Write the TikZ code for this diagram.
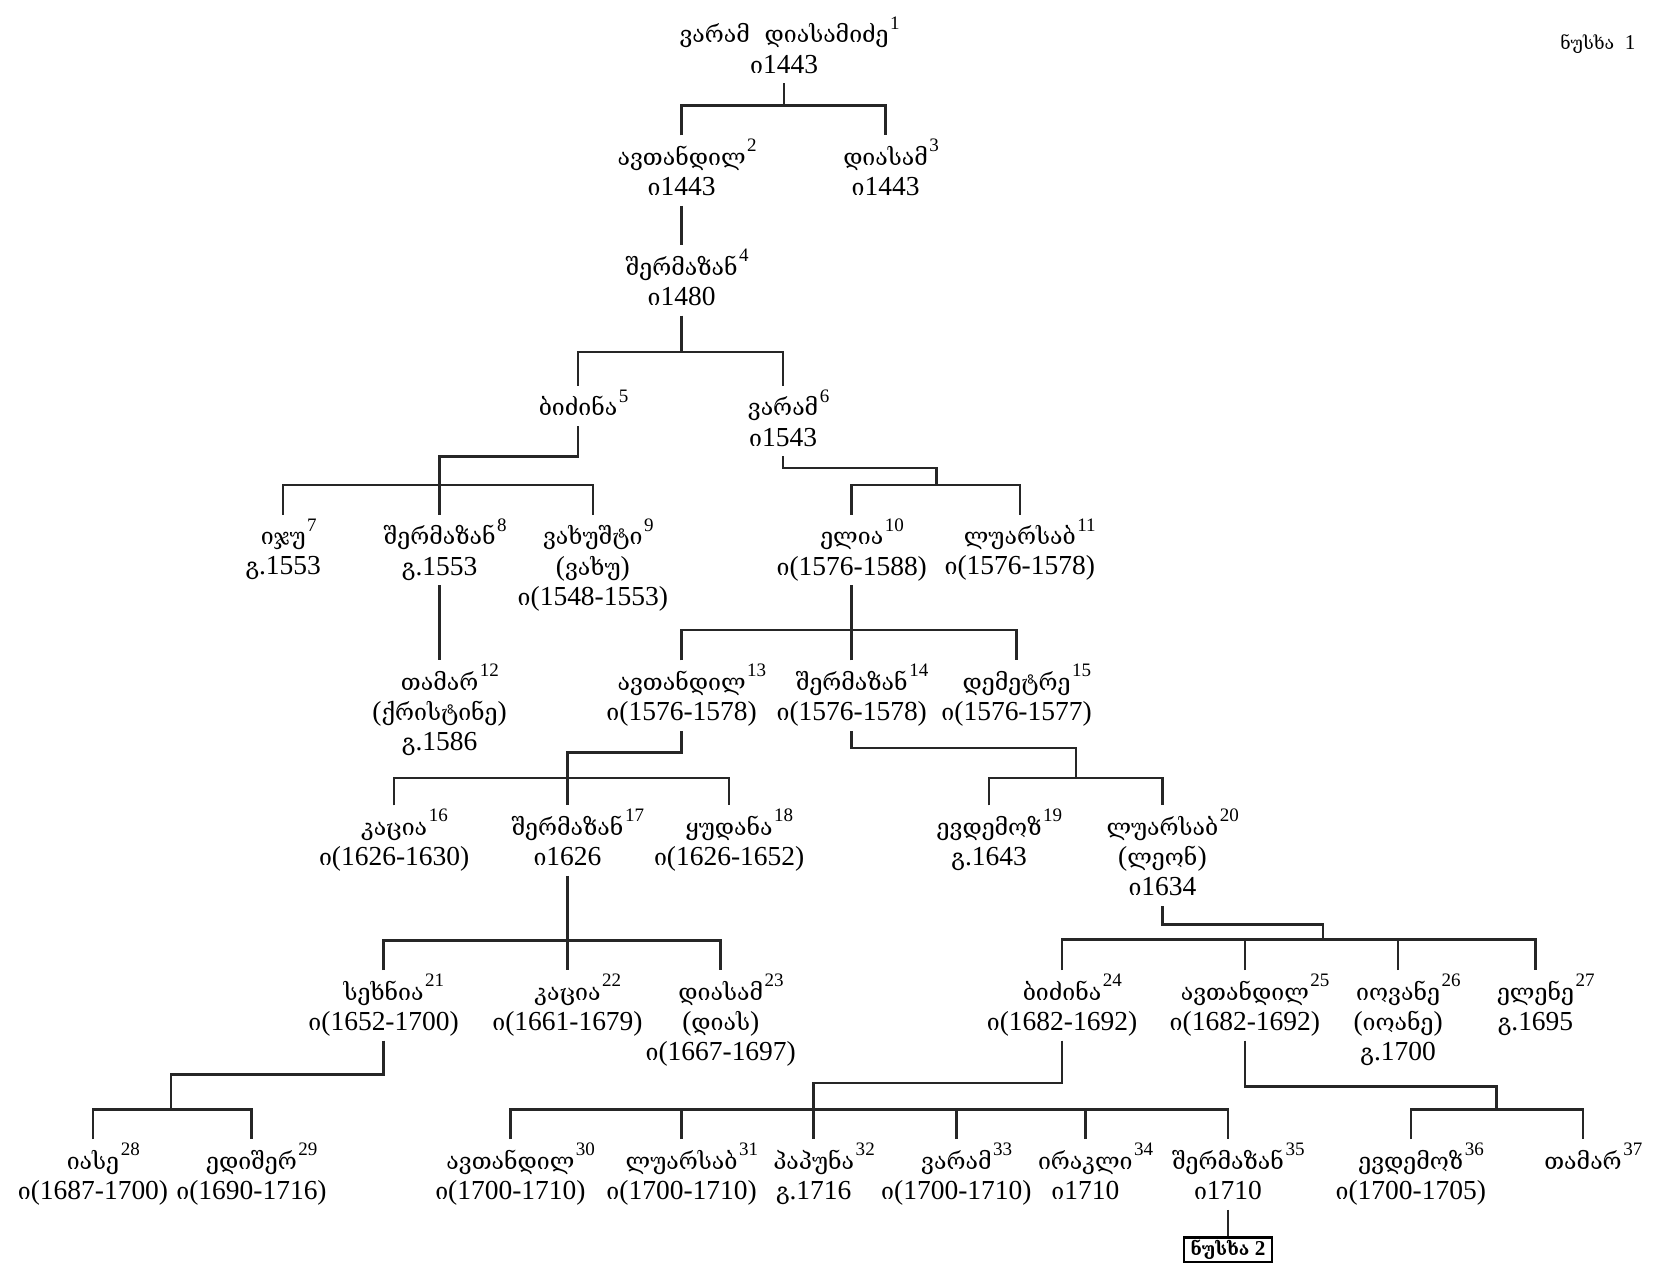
\documentclass[tikz,border=0pt]{standalone}
\usepackage{fontspec}
\setmainfont{Liberation Serif}
\newfontfamily\geo[Scale=0.84]{DejaVu Serif}
\newcommand\supf{\fontsize{18}{18}\selectfont}
\newcommand\pname[2]{{\geo #1}\rlap{\hspace{1.5pt}\raisebox{13pt}{\supf #2}}}
\newcommand\pI{{\geo ი}}
\newcommand\pG{{\geo გ}.}
\newcommand\lstrut{\rule[-6pt]{0pt}{6pt}}
\tikzset{
  conn/.style={line width=2.4pt, line join=miter, draw=black!85},
  pn/.style={anchor=north, align=center, inner xsep=0pt, inner ysep=3.5pt,
    font=\fontsize{26}{28.5}\selectfont},
}
\begin{document}
\begin{tikzpicture}[x=1pt,y=-1pt]
\path[use as bounding box, fill=white] (0,0) rectangle (1568,1197);
% helper levels
\coordinate (b1) at (0,100);
\coordinate (b4) at (0,333);
\coordinate (e5) at (0,432);
\coordinate (b5) at (0,459);
\coordinate (m6) at (886,443);
\coordinate (b6) at (0,459);
\coordinate (b10) at (0,596);
\coordinate (e13) at (0,712);
\coordinate (b13) at (0,736);
\coordinate (m14) at (1018,708);
\coordinate (b14) at (0,736);
\coordinate (b17) at (0,890);
\coordinate (m20) at (1252,875);
\coordinate (b20) at (0,889);
\coordinate (m21) at (162,1017);
\coordinate (b21) at (0,1050);
\coordinate (e24) at (0,1025);
\coordinate (b24) at (0,1050);
\coordinate (m25) at (1416,1028);
\coordinate (b25) at (0,1050);

\node[font=\fontsize{20}{20}\selectfont] (title) at (1512,42) {{\geo ნუსხა}\ \ 1};

\node[pn] (n1) at (742,12) {\pname{ვარამ\ \ დიასამიძე}{1}\\\pI1443\lstrut};
\node[pn] (n2) at (645,128) {\pname{ავთანდილ}{2}\\\pI1443\lstrut};
\node[pn] (n3) at (838,128) {\pname{დიასამ}{3}\\\pI1443\lstrut};
\node[pn] (n4) at (645,232) {\pname{შერმაზან}{4}\\\pI1480\lstrut};
\node[pn] (n5) at (547,365) {\pname{ბიძინა}{5}\lstrut};
\node[pn] (n6) at (741,365) {\pname{ვარამ}{6}\\\pI1543\lstrut};
\node[pn] (n7) at (268,487) {\pname{იჯუ}{7}\\\pG1553\lstrut};
\node[pn] (n8) at (416,487) {\pname{შერმაზან}{8}\\\pG1553\lstrut};
\node[pn] (n9) at (561,487) {\pname{ვახუშტი}{9}\\({\geo ვახუ})\\\pI(1548-1553)\lstrut};
\node[pn] (n10) at (806,487) {\pname{ელია}{10}\\\pI(1576-1588)\lstrut};
\node[pn] (n11) at (965,487) {\pname{ლუარსაბ}{11}\\\pI(1576-1578)\lstrut};
\node[pn] (n12) at (416,625) {\pname{თამარ}{12}\\({\geo ქრისტინე})\\\pG1586\lstrut};
\node[pn] (n13) at (645,625) {\pname{ავთანდილ}{13}\\\pI(1576-1578)\lstrut};
\node[pn] (n14) at (806,625) {\pname{შერმაზან}{14}\\\pI(1576-1578)\lstrut};
\node[pn] (n15) at (962,625) {\pname{დემეტრე}{15}\\\pI(1576-1577)\lstrut};
\node[pn] (n16) at (373,762) {\pname{კაცია}{16}\\\pI(1626-1630)\lstrut};
\node[pn] (n17) at (537,762) {\pname{შერმაზან}{17}\\\pI1626\lstrut};
\node[pn] (n18) at (690,762) {\pname{ყუდანა}{18}\\\pI(1626-1652)\lstrut};
\node[pn] (n19) at (936,762) {\pname{ევდემოზ}{19}\\\pG1643\lstrut};
\node[pn] (n20) at (1100,762) {\pname{ლუარსაბ}{20}\\({\geo ლეონ})\\\pI1634\lstrut};
\node[pn] (n21) at (363,918) {\pname{სეხნია}{21}\\\pI(1652-1700)\lstrut};
\node[pn] (n22) at (537,918) {\pname{კაცია}{22}\\\pI(1661-1679)\lstrut};
\node[pn] (n23) at (682,918) {\pname{დიასამ}{23}\\({\geo დიას})\\\pI(1667-1697)\lstrut};
\node[pn] (n24) at (1005,918) {\pname{ბიძინა}{24}\\\pI(1682-1692)\lstrut};
\node[pn] (n25) at (1178,918) {\pname{ავთანდილ}{25}\\\pI(1682-1692)\lstrut};
\node[pn] (n26) at (1323,918) {\pname{იოვანე}{26}\\({\geo იოანე})\\\pG1700\lstrut};
\node[pn] (n27) at (1453,918) {\pname{ელენე}{27}\\\pG1695\lstrut};
\node[pn] (n28) at (88,1078) {\pname{იასე}{28}\\\pI(1687-1700)\lstrut};
\node[pn] (n29) at (238,1078) {\pname{ედიშერ}{29}\\\pI(1690-1716)\lstrut};
\node[pn] (n30) at (483,1078) {\pname{ავთანდილ}{30}\\\pI(1700-1710)\lstrut};
\node[pn] (n31) at (645,1078) {\pname{ლუარსაბ}{31}\\\pI(1700-1710)\lstrut};
\node[pn] (n32) at (770,1078) {\pname{პაპუნა}{32}\\\pG1716\lstrut};
\node[pn] (n33) at (905,1078) {\pname{ვარამ}{33}\\\pI(1700-1710)\lstrut};
\node[pn] (n34) at (1027,1078) {\pname{ირაკლი}{34}\\\pI1710\lstrut};
\node[pn] (n35) at (1162,1078) {\pname{შერმაზან}{35}\\\pI1710\lstrut};
\node[pn] (n36) at (1335,1078) {\pname{ევდემოზ}{36}\\\pI(1700-1705)\lstrut};
\node[pn] (n37) at (1498,1078) {\pname{თამარ}{37}\lstrut};

\node[draw, line width=2pt, anchor=north, minimum width=84pt, minimum height=23pt, inner sep=1pt,
  font=\bfseries\fontsize{20}{20}\selectfont] (bx) at (1162,1170) {{\geo ნუსხა}~2};

% connectors
\draw[conn] (n1.south) -- (n1.south |- b1);
\draw[conn] (n2.north) |- (n3.north |- b1) -- (n3.north);
\draw[conn] (n2.south) -- (n4.north);
\draw[conn] (n4.south) -- (n4.south |- b4);
\draw[conn] (n5.north) |- (n6.north |- b4) -- (n6.north);
\draw[conn] (n5.south) |- (n8.north |- e5) -- (n8.north);
\draw[conn] (n7.north) |- (n9.north |- b5) -- (n9.north);
\draw[conn] (n6.south) |- (m6) -- (m6 |- b6);
\draw[conn] (n10.north) |- (n11.north |- b6) -- (n11.north);
\draw[conn] (n8.south) -- (n12.north);
\draw[conn] (n10.south) -- (n10.south |- b10);
\draw[conn] (n13.north) |- (n15.north |- b10) -- (n15.north);
\draw[conn] (n14.north) -- (n14.north |- b10);
\draw[conn] (n13.south) |- (n17.north |- e13) -- (n17.north);
\draw[conn] (n16.north) |- (n18.north |- b13) -- (n18.north);
\draw[conn] (n14.south) |- (m14) -- (m14 |- b14);
\draw[conn] (n19.north) |- (n20.north |- b14) -- (n20.north);
\draw[conn] (n17.south) -- (n22.north);
\draw[conn] (n21.north) |- (n23.north |- b17) -- (n23.north);
\draw[conn] (n20.south) |- (m20) -- (m20 |- b20);
\draw[conn] (n24.north) |- (n27.north |- b20) -- (n27.north);
\draw[conn] (n25.north) -- (n25.north |- b20);
\draw[conn] (n26.north) -- (n26.north |- b20);
\draw[conn] (n21.south) |- (m21) -- (m21 |- b21);
\draw[conn] (n28.north) |- (n29.north |- b21) -- (n29.north);
\draw[conn] (n24.south) |- (n32.north |- e24) -- (n32.north);
\draw[conn] (n30.north) |- (n35.north |- b24) -- (n35.north);
\draw[conn] (n31.north) -- (n31.north |- b24);
\draw[conn] (n33.north) -- (n33.north |- b24);
\draw[conn] (n34.north) -- (n34.north |- b24);
\draw[conn] (n25.south) |- (m25) -- (m25 |- b25);
\draw[conn] (n36.north) |- (n37.north |- b25) -- (n37.north);
\draw[conn] (n35.south) -- (bx.north);
\end{tikzpicture}
\end{document}
